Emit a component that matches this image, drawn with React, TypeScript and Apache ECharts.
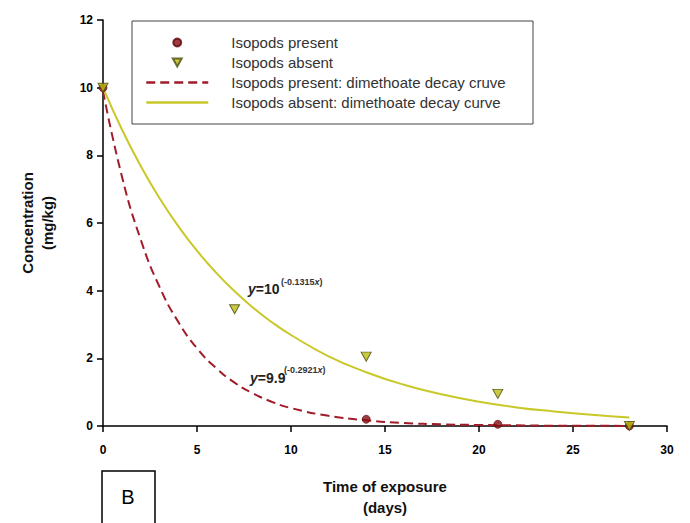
import React, { useEffect, useRef } from 'react';
import * as echarts from 'echarts';

// observed concentrations (mg/kg)
const presentDays = [0, 14, 21, 28];
const presentConc = [10, 0.2, 0.05, 0];
const absentDays = [0, 7, 14, 21, 28];
const absentConc = [10, 3.45, 2.05, 0.95, 0];

// fitted decay curves
const curveDays = [0, 1, 2, 3, 4, 5, 6, 7, 8, 9, 10, 12, 14, 16, 18, 20, 22, 24, 26, 28];
const presentCurve = [9.9, 7.39, 5.52, 4.12, 3.08, 2.3, 1.72, 1.28, 0.96, 0.71, 0.53, 0.3, 0.17, 0.09, 0.05, 0.03, 0.02, 0.01, 0.01, 0.0];
const absentCurve = [10, 8.77, 7.69, 6.74, 5.91, 5.18, 4.54, 3.98, 3.49, 3.06, 2.69, 2.06, 1.59, 1.22, 0.94, 0.72, 0.55, 0.43, 0.33, 0.25];

const seriesNames = [
  'Isopods present',
  'Isopods absent',
  'Isopods present: dimethoate decay cruve',
  'Isopods absent: dimethoate decay curve',
];

const FONT = 'Liberation Sans';
const RED = '#a01c28';
const DARK_RED = '#860d12';
const YELLOW = '#c8c828';
const TRIANGLE = 'path://M0,0L10,0L5,9Z';

const zip = (xs: number[], ys: number[]) => xs.map((x, i) => [x, ys[i]]);

const App: React.FC = () => {
  const chartRef = useRef<HTMLDivElement>(null);

  useEffect(() => {
    if (!chartRef.current) return;
    const chart = echarts.init(chartRef.current, undefined, { renderer: 'svg' });

    const axisLabel = { color: '#000', fontWeight: 'bold' as const, fontSize: 12, fontFamily: FONT };
    const axisLine = { lineStyle: { color: '#000', width: 1.5 } };

    // rich text for the fitted equations
    const eqRich = {
      i: { fontSize: 14, fontWeight: 'bold', fontStyle: 'italic', fill: '#222', fontFamily: FONT },
      b: { fontSize: 14, fontWeight: 'bold', fill: '#222', fontFamily: FONT },
    };
    const supRich = {
      n: { fontSize: 9, fontWeight: 'bold', fill: '#333', fontFamily: FONT },
      i: { fontSize: 9, fontWeight: 'bold', fontStyle: 'italic', fill: '#333', fontFamily: FONT },
    };

    chart.setOption({
      animation: false,
      backgroundColor: '#fff',
      textStyle: { fontFamily: FONT },
      grid: { left: 103, right: 23, top: 20, bottom: 96, containLabel: false },
      legend: {
        left: 145,
        top: 35,
        padding: 0,
        orient: 'vertical',
        itemWidth: 62,
        itemHeight: 8,
        itemGap: 5,
        selectedMode: false,
        textStyle: { fontSize: 15, color: '#333', fontFamily: FONT, padding: [0, 0, 0, 18] },
        data: [
          { name: seriesNames[0], icon: 'circle' },
          { name: seriesNames[1], icon: TRIANGLE },
          // line-only icons: hide the marker ECharts puts in the middle
          { name: seriesNames[2], itemStyle: { opacity: 0 }, lineStyle: { width: 2.5 } },
          { name: seriesNames[3], itemStyle: { opacity: 0 }, lineStyle: { width: 2.5 } },
        ],
      },
      xAxis: {
        type: 'value',
        min: 0,
        max: 30,
        interval: 5,
        name: 'Time of exposure\n(days)',
        nameLocation: 'middle',
        nameGap: 50,
        nameTextStyle: { fontSize: 15, fontWeight: 'bold', color: '#111', lineHeight: 21, fontFamily: FONT },
        axisLine,
        axisTick: { length: 6, lineStyle: { color: '#000', width: 1.5 } },
        axisLabel: { ...axisLabel, margin: 18 },
        splitLine: { show: false },
      },
      yAxis: {
        type: 'value',
        min: 0,
        max: 12,
        interval: 2,
        name: 'Concentration\n(mg/kg)',
        nameLocation: 'middle',
        nameRotate: 90,
        nameGap: 46,
        nameTextStyle: { fontSize: 15, fontWeight: 'bold', color: '#111', lineHeight: 20, fontFamily: FONT },
        axisLine: { show: true, ...axisLine },
        axisTick: { show: true, length: 6, lineStyle: { color: '#000', width: 1.5 } },
        axisLabel: { ...axisLabel, margin: 10 },
        splitLine: { show: false },
      },
      series: [
        {
          name: seriesNames[0],
          type: 'scatter',
          data: zip(presentDays, presentConc),
          symbol: 'circle',
          symbolSize: 8,
          itemStyle: { color: DARK_RED, borderColor: '#5a0608', borderWidth: 0.8 },
          z: 4,
        },
        {
          name: seriesNames[1],
          type: 'scatter',
          data: zip(absentDays, absentConc),
          symbol: TRIANGLE,
          symbolSize: [10, 9],
          itemStyle: { color: '#bdbd10', borderColor: '#4a4a10', borderWidth: 1 },
          z: 5,
        },
        {
          name: seriesNames[2],
          type: 'line',
          data: zip(curveDays, presentCurve),
          smooth: true,
          symbol: 'none',
          lineStyle: { color: RED, width: 2, type: [9, 5] },
          itemStyle: { color: RED },
          z: 2,
        },
        {
          name: seriesNames[3],
          type: 'line',
          data: zip(curveDays, absentCurve),
          smooth: true,
          symbol: 'none',
          lineStyle: { color: YELLOW, width: 2 },
          itemStyle: { color: YELLOW },
          z: 2,
        },
      ],
      graphic: [
        {
          type: 'rect',
          shape: { x: 132, y: 21, width: 401, height: 103 },
          style: { fill: '#fff', stroke: '#444', lineWidth: 1 },
          z: 1,
        },
        {
          type: 'rect',
          shape: { x: 102, y: 471, width: 53, height: 60 },
          style: { fill: '#fff', stroke: '#000', lineWidth: 1.5 },
          z: 1,
        },
        {
          type: 'text',
          x: 128,
          y: 497,
          style: { text: 'B', font: '20px "Liberation Sans"', fill: '#000', align: 'center', verticalAlign: 'middle' },
          z: 2,
        },
        {
          type: 'text',
          x: 248,
          y: 289,
          style: { text: '{i|y}{b|=10}', verticalAlign: 'middle', rich: eqRich },
          z: 6,
        },
        {
          type: 'text',
          x: 281,
          y: 282,
          style: { text: '{n|(-0.1315}{i|x}{n|)}', verticalAlign: 'middle', rich: supRich },
          z: 6,
        },
        {
          type: 'text',
          x: 250,
          y: 378,
          style: { text: '{i|y}{b|=9.9}', verticalAlign: 'middle', rich: eqRich },
          z: 6,
        },
        {
          type: 'text',
          x: 284,
          y: 370,
          style: { text: '{n|(-0.2921}{i|x}{n|)}', verticalAlign: 'middle', rich: supRich },
          z: 6,
        },
      ],
    });

    return () => {
      chart.dispose();
    };
  }, []);

  return (
    <div
      ref={chartRef}
      style={{ position: 'fixed', left: 0, top: 0, width: 690, height: 523 }}
    />
  );
};

export default App;
